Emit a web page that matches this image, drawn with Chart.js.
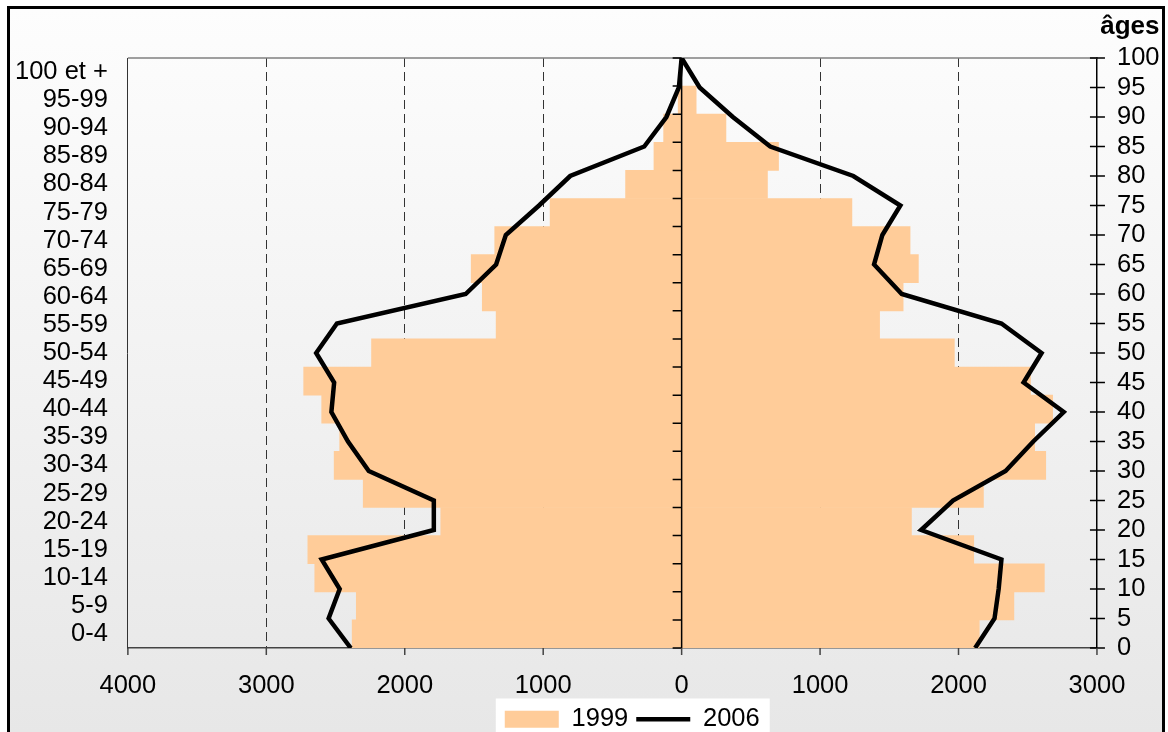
<!DOCTYPE html>
<html lang="fr">
<head>
<meta charset="UTF-8">
<title>Pyramide des âges 1999 / 2006</title>
<script src="https://cdn.jsdelivr.net/npm/chart.js"></script>
<style>
    html, body { margin: 0; padding: 0; background: #ffffff; overflow: hidden; }
    #frame {
        position: absolute; left: 7px; top: 6px;
        width: 1158px; height: 760px;
        box-sizing: border-box;
        border: 3px solid #000;
        background: linear-gradient(#fdfdfd 0%, #e7e7e7 96%);
    }
    #wrap { position: relative; width: 1152px; height: 733px; }
</style>
</head>
<body>
<div id="frame">
    <div id="wrap"><canvas id="pyramide"></canvas></div>
</div>
<script>
    // tranches d'âge (du bas vers le haut)
    const ageGroups = ['0-4', '5-9', '10-14', '15-19', '20-24', '25-29', '30-34', '35-39', '40-44', '45-49',
        '50-54', '55-59', '60-64', '65-69', '70-74', '75-79', '80-84', '85-89', '90-94', '95-99', '100 et +'];

    // 1999 : barres (hommes à gauche, femmes à droite)
    const hommes1999 = [2380, 2350, 2650, 2700, 1740, 2300, 2510, 2470, 2600, 2730,
        2240, 1340, 1440, 1520, 1350, 950, 405, 200, 130, 25, 0];
    const femmes1999 = [2150, 2400, 2620, 2110, 1660, 2180, 2630, 2550, 2680, 2520,
        1970, 1430, 1600, 1710, 1650, 1230, 620, 700, 320, 105, 0];

    // 2006 : courbe, un point tous les 5 ans (âge 0 à 100)
    const ages = [0, 5, 10, 15, 20, 25, 30, 35, 40, 45, 50, 55, 60, 65, 70, 75, 80, 85, 90, 95, 100];
    const hommes2006 = [2390, 2550, 2470, 2600, 1790, 1790, 2260, 2410, 2530, 2510,
        2640, 2490, 1560, 1340, 1270, 1030, 805, 270, 110, 20, 0];
    const femmes2006 = [2120, 2260, 2290, 2310, 1730, 1960, 2340, 2540, 2760, 2470,
        2600, 2310, 1590, 1390, 1450, 1580, 1240, 640, 370, 130, 0];

    const PEACH = '#ffcc99';
    const FAMILY = '"Liberation Sans", Arial, sans-serif';
    const FONT = { family: FAMILY, size: 25.5, lineHeight: 1 };
    const NONE = 'rgba(0,0,0,0)';
    const LEGEND_SHIFT = 45;

    const toPoints = (vals, sign) => ages.map((a, i) => ({ x: sign * vals[i], y: a }));

    // petits traits d'axes, axe du zéro, cadre haut, fond blanc de la légende
    const decor = {
        id: 'decor',
        afterLayout(chart) {
            chart.legend.left += LEGEND_SHIFT;
            chart.legend.right += LEGEND_SHIFT;
        },
        beforeDraw(chart) {
            const lg = chart.legend;
            const pad = lg.options.labels.padding;
            const w = lg.lineWidths[0];
            const x0 = (lg.left + pad + lg.right - w) / 2;
            const ctx = chart.ctx;
            ctx.save();
            ctx.fillStyle = '#ffffff';
            ctx.fillRect(x0 - 9, lg.top, w - pad + 19, chart.height - lg.top);
            ctx.restore();
        },
        afterDatasetDraw(chart, args) {
            if (args.index !== 0) return;
            const { ctx, chartArea: a, scales } = chart;
            const x0 = scales.x.getPixelForValue(0);
            ctx.save();
            ctx.strokeStyle = '#808080';
            ctx.lineWidth = 1.5;
            ctx.beginPath();
            ctx.moveTo(a.left, a.top);
            ctx.lineTo(a.right, a.top);
            ctx.stroke();

            ctx.strokeStyle = '#000';
            ctx.beginPath();
            ctx.moveTo(x0, a.top);
            ctx.lineTo(x0, a.bottom);
            for (let i = 0; i <= ageGroups.length; i++) {
                const py = scales.y.getPixelForValue(i - 0.5);
                ctx.moveTo(x0 - 9, py);
                ctx.lineTo(x0, py);
            }
            scales.yAge.ticks.forEach(t => {
                const py = scales.yAge.getPixelForValue(t.value);
                ctx.moveTo(a.right - 7, py);
                ctx.lineTo(a.right + 8, py);
            });
            ctx.stroke();

            ctx.strokeStyle = '#444';
            ctx.beginPath();
            scales.x.ticks.forEach(t => {
                const px = scales.x.getPixelForValue(t.value);
                ctx.moveTo(px, a.bottom);
                ctx.lineTo(px, a.bottom + 7);
            });
            ctx.stroke();
            ctx.restore();
        }
    };

    const barStyle = {
        backgroundColor: PEACH,
        borderWidth: 0,
        yAxisID: 'y',
        order: 1,
        grouped: false,
        barPercentage: 1,
        categoryPercentage: 1
    };
    const lineStyle = {
        type: 'line',
        yAxisID: 'yAge',
        xAxisID: 'x',
        borderColor: '#000',
        backgroundColor: '#000',
        borderWidth: 4.5,
        borderJoinStyle: 'miter',
        pointRadius: 0,
        tension: 0,
        fill: false,
        order: 0
    };

    new Chart(document.getElementById('pyramide'), {
        type: 'bar',
        data: {
            labels: ageGroups,
            datasets: [
                Object.assign({ label: '1999', data: hommes1999.map(v => -v) }, barStyle),
                Object.assign({ label: '1999', data: femmes1999 }, barStyle),
                Object.assign({ label: '2006', data: toPoints(hommes2006, -1) }, lineStyle),
                Object.assign({ label: '2006', data: toPoints(femmes2006, 1) }, lineStyle)
            ]
        },
        options: {
            indexAxis: 'y',
            responsive: true,
            maintainAspectRatio: false,
            animation: false,
            layout: { padding: { left: 5, right: 2.5, top: 0, bottom: 0 } },
            scales: {
                x: {
                    type: 'linear',
                    min: -4000,
                    max: 3000,
                    ticks: {
                        stepSize: 1000,
                        callback: v => Math.abs(v),
                        color: '#000',
                        font: FONT,
                        padding: 0,
                        maxRotation: 0
                    },
                    grid: {
                        color: c => ([-4000, 0, 3000].includes(c.tick && c.tick.value) ? NONE : '#333'),
                        lineWidth: 1,
                        tickLength: 25,
                        tickColor: NONE
                    },
                    border: { color: '#444', width: 1.5, dash: [9, 5] }
                },
                y: {
                    type: 'category',
                    position: 'left',
                    reverse: true,
                    offset: true,
                    ticks: { autoSkip: false, color: '#000', font: FONT, padding: 0 },
                    grid: { drawOnChartArea: false, tickLength: 20, tickColor: NONE },
                    border: { color: '#333', width: 1 }
                },
                yAge: {
                    type: 'linear',
                    position: 'right',
                    min: 0,
                    max: 100,
                    offset: false,
                    ticks: { stepSize: 5, autoSkip: false, color: '#000', font: FONT, padding: 0 },
                    grid: { offset: false, drawOnChartArea: false, tickLength: 20, tickColor: NONE },
                    border: { color: '#000', width: 1.5 }
                }
            },
            plugins: {
                title: {
                    display: true,
                    text: 'âges',
                    align: 'end',
                    color: '#000',
                    font: { family: FAMILY, size: 26, weight: 'bold' },
                    padding: { top: 2, bottom: 15.8 }
                },
                legend: {
                    position: 'bottom',
                    labels: {
                        usePointStyle: true,
                        pointStyleWidth: 54,
                        boxHeight: 17,
                        padding: 8,
                        color: '#000',
                        font: FONT,
                        generateLabels(chart) {
                            const items = Chart.defaults.plugins.legend.labels.generateLabels(chart);
                            return items
                                .filter(it => it.datasetIndex === 0 || it.datasetIndex === 2)
                                .sort((a, b) => a.datasetIndex - b.datasetIndex)
                                .map(it => Object.assign(it, {
                                    pointStyle: chart.data.datasets[it.datasetIndex].type === 'line' ? 'line' : 'rect'
                                }));
                        }
                    }
                },
                tooltip: { enabled: false }
            }
        },
        plugins: [decor]
    });
</script>
</body>
</html>
